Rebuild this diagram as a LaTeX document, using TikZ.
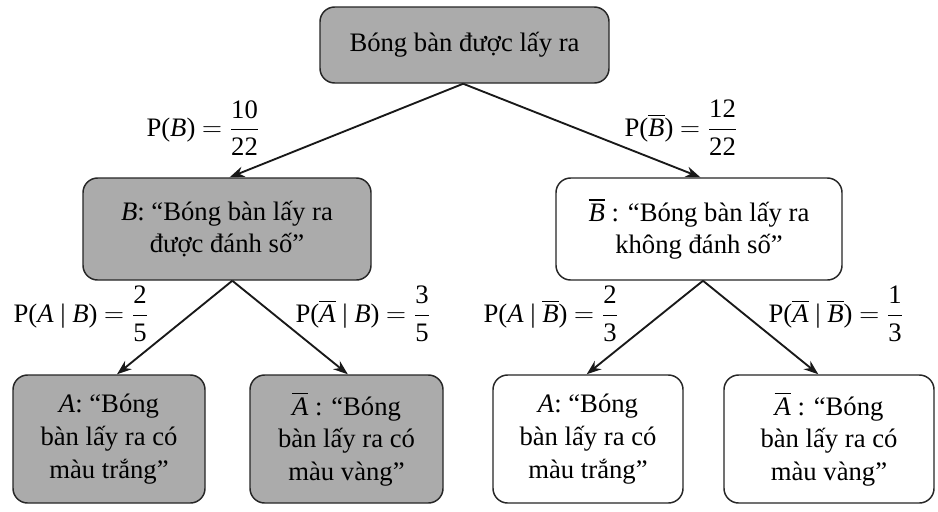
\documentclass[tikz,border=0pt]{standalone}
\usepackage{amsmath}
\usepackage{fontspec}
\setmainfont{Liberation Serif}
\usetikzlibrary{arrows.meta}
\newcommand{\ob}[1]{$\overline{\text{\textit{#1}}}$}
\newcommand{\fr}[2]{$=\dfrac{\text{#1}}{\text{#2}}$}
\begin{document}
\begin{tikzpicture}[x=0.75pt,y=-0.75pt,
  box/.style={draw=black!85,line width=1.1pt,rounded corners=11pt,align=center,inner sep=0pt,font=\fontsize{20}{24.5}\selectfont},
  grayfill/.style={fill=black!33},
  whitefill/.style={fill=white},
  arr/.style={line width=1.4pt,draw=black!90,-{Stealth[length=11pt,width=8pt]}},
  lab/.style={font=\fontsize{20}{24}\selectfont,inner sep=0pt}]
\useasboundingbox (0,0) rectangle (938,511);
\fill[white] (0,0) rectangle (938,511);
\node[box,grayfill,minimum width=216.75pt,minimum height=57pt] (top) at (464.5,45) {Bóng bàn được lấy ra};
\node[box,grayfill,minimum width=216pt,minimum height=76.5pt] (B) at (227,229) {\textit{B}: “Bóng bàn lấy ra\\được đánh số”};
\node[box,whitefill,minimum width=214.5pt,minimum height=76.5pt] (Bb) at (699,229) {\ob{B} : “Bóng bàn lấy ra\\không đánh số”};
\node[box,grayfill,minimum width=144pt,minimum height=96pt] (A1) at (109,439) {\textit{A}: “Bóng\\bàn lấy ra có\\màu trắng”};
\node[box,grayfill,minimum width=144.75pt,minimum height=96pt] (A2) at (346.5,439) {\ob{A} : “Bóng\\bàn lấy ra có\\màu vàng”};
\node[box,whitefill,minimum width=142.5pt,minimum height=96pt] (A3) at (588,439) {\textit{A}: “Bóng\\bàn lấy ra có\\màu trắng”};
\node[box,whitefill,minimum width=157.5pt,minimum height=96pt] (A4) at (829,439) {\ob{A} : “Bóng\\bàn lấy ra có\\màu vàng”};
\draw[arr] ([xshift=-1pt]top.south) -- ([xshift=2pt]B.north);
\draw[arr] ([xshift=-1pt]top.south) -- ([xshift=1pt]Bb.north);
\draw[arr] ([xshift=4pt]B.south) -- ([xshift=6pt]A1.north);
\draw[arr] ([xshift=4pt]B.south) -- ([xshift=1pt]A2.north);
\draw[arr] ([xshift=3pt]Bb.south) -- ([xshift=-1pt]A3.north);
\draw[arr] ([xshift=3pt]Bb.south) -- ([xshift=-8pt]A4.north);
\node[lab] (l1) at (203,128) {P(\textit{B}) \fr{10}{22}};
\node[lab] (l2) at (681,128) {P(\ob{B}) \fr{12}{22}};
\node[lab] (l3) at (81,314) {P(\textit{A} | \textit{B}) \fr{2}{5}};
\node[lab] (l4) at (363,314) {P(\ob{A} | \textit{B}) \fr{3}{5}};
\node[lab] (l5) at (551,314) {P(\textit{A} | \ob{B}) \fr{2}{3}};
\node[lab] (l6) at (836,314) {P(\ob{A} | \ob{B}) \fr{1}{3}};
\end{tikzpicture}
\end{document}
